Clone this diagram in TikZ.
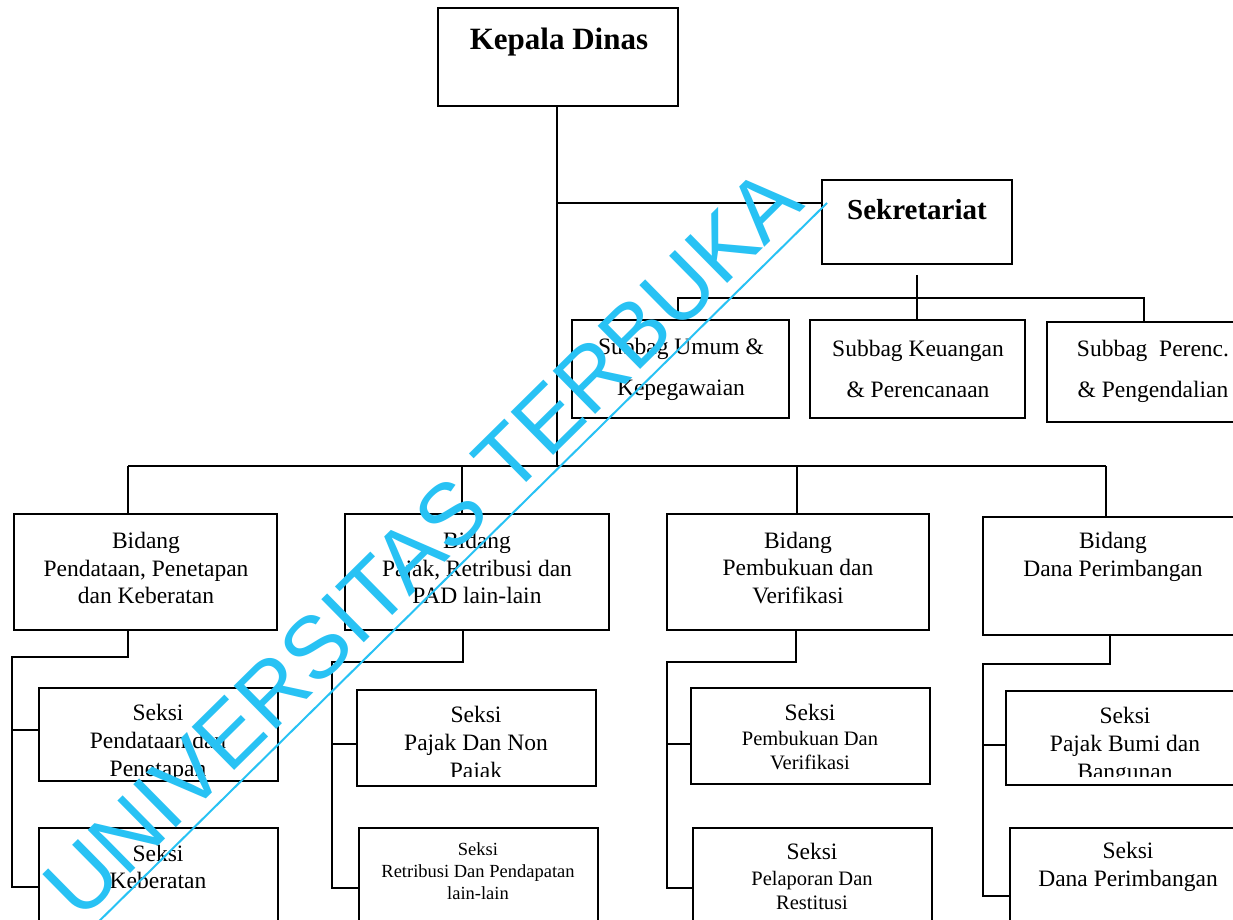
\documentclass[tikz,border=0pt]{standalone}
\usepackage{fontspec}
\setmainfont{Liberation Serif}
\newfontfamily\wmfont{Liberation Sans}
\definecolor{wmc}{RGB}{40,194,244}
\newcommand\bx[5]{\node[box, minimum width={#4-#2}, minimum height={#5-#3}] (#1) at ({(#2+#4)/2},{(#3+#5)/2}) {};}
\begin{document}
\begin{tikzpicture}[x=1pt,y=-1pt,
  box/.style={draw, line width=1.8pt, inner sep=0pt, fill=white},
  conn/.style={line width=1.8pt},
  txt/.style={align=center, inner sep=0pt, font=\fontsize{23.5}{27.5}\selectfont},
  cut/.style={align=center, inner sep=0pt, font=\fontsize{23.5}{28}\selectfont},
  sub/.style={align=center, inner sep=0pt, font=\fontsize{23.5}{41}\selectfont},
  mid/.style={align=center, inner sep=0pt, font=\fontsize{20.5}{24}\selectfont},
  small/.style={align=center, inner sep=0pt, font=\fontsize{18.5}{22}\selectfont},
  head/.style={inner sep=0pt, font=\bfseries\fontsize{31}{36}\selectfont},
  wm/.style={inner sep=0pt, text=wmc, font=\wmfont\fontsize{88}{88}\selectfont},
  wmline/.style={draw=wmc, line width=2pt}]
\useasboundingbox (0,0) rectangle (1233,920);
\clip (0,0) rectangle (1233,920);
\fill[white] (0,0) rectangle (1233,920);

% boxes
\bx{KD}{438}{8}{678}{106}
\bx{Sek}{822}{180}{1012}{264}
\bx{SU}{572}{320}{789}{418}
\bx{SK}{810}{320}{1025}{418}
\bx{SP}{1047}{322}{1241}{422}
\bx{B1}{14}{514}{277}{630}
\bx{B2}{345}{514}{609}{630}
\bx{B3}{667}{514}{929}{630}
\bx{B4}{983}{517}{1243}{635}
\bx{S1a}{39}{688}{278}{781}
\bx{S1b}{39}{828}{278}{960}
\bx{S2a}{357}{690}{596}{786}
\bx{S2b}{359}{828}{598}{960}
\bx{S3a}{691}{688}{930}{784}
\bx{S3b}{693}{828}{932}{960}
\bx{S4a}{1006}{691}{1245}{785}
\bx{S4b}{1010}{828}{1250}{960}

% texts
\node[head] (tKD) at (559,42) {Kepala Dinas};
\node[head, font=\bfseries\fontsize{29}{34}\selectfont] (tSek) at (917,210) {Sekretariat};
\node[sub] (tSU) at (681,369) {Subbag Umum \&\\Kepegawaian};
\node[sub] (tSK) at (918,369) {Subbag Keuangan\\\& Perencanaan};
\node[sub] (tSP) at (1153,371) {Subbag\ \ Perenc.\\\& Pengendalian};
\node[txt] (tB1) at (146,568) {Bidang\\Pendataan, Penetapan\\dan Keberatan};
\node[txt] (tB2) at (477,568) {Bidang\\Pajak, Retribusi dan\\PAD lain-lain};
\node[txt] (tB3) at (798,568) {Bidang\\Pembukuan dan\\Verifikasi};
\node[txt] (tB4) at (1113,557) {Bidang\\Dana Perimbangan};
\begin{scope}
\clip (39,688) rectangle (278,777);
\node[cut] (tS1a) at (158,742.5) {Seksi\\Pendataan dan\\Penetapan};
\end{scope}
\node[txt] (tS1b) at (158,867) {Seksi\\Keberatan};
\begin{scope}
\clip (357,690) rectangle (596,776);
\node[cut] (tS2a) at (476,744.5) {Seksi\\Pajak Dan Non\\Pajak};
\end{scope}
\node[small] (tS2b) at (478,871) {Seksi\\Retribusi Dan Pendapatan\\lain-lain};
\node[txt] (tS3a1) at (810,712) {Seksi};
\node[mid] (tS3a2) at (810,751) {Pembukuan Dan\\Verifikasi};
\node[txt] (tS3b1) at (812,851) {Seksi};
\node[mid] (tS3b2) at (812,890) {Pelaporan Dan\\Restitusi};
\begin{scope}
\clip (1006,691) rectangle (1245,776);
\node[cut] (tS4a) at (1125,745.5) {Seksi\\Pajak Bumi dan\\Bangunan};
\end{scope}
\node[txt] (tS4b) at (1128,867) {Seksi\\Dana Perimbangan};

% connectors
\coordinate (tr) at (557,466);
\coordinate (sk) at (822,203);
\draw[conn] (tr |- KD.south) -- (tr);
\draw[conn] (sk -| tr) -- (sk);
\coordinate (sb) at (917,298);
\coordinate (sbL) at (678,298);
\coordinate (sbR) at (1144,298);
\draw[conn] ([yshift=-10pt]Sek.south) -- (sb);
\draw[conn] (sbL |- SU.north) -- (sbL) -- (sbR) -- (sbR |- SP.north);
\draw[conn] (sb) -- (sb |- SK.north);

\coordinate (d1) at (128,466);
\coordinate (d2) at (462,466);
\coordinate (d3) at (797,466);
\coordinate (d4) at (1106,466);
\draw[conn] (d1) -- (d4);
\foreach \i in {1,2,3,4} {\draw[conn] (d\i) -- (d\i |- B\i.north);}

% column 1
\coordinate (j1) at (128,657); \coordinate (r1) at (12,657);
\coordinate (a1) at (12,730); \coordinate (b1) at (12,887);
\draw[conn] (j1 |- B1.south) -- (j1) -- (r1) -- (b1) -- (b1 -| S1b.west);
\draw[conn] (a1) -- (a1 -| S1a.west);
% column 2
\coordinate (j2) at (463,662); \coordinate (r2) at (332,662);
\coordinate (a2) at (332,744); \coordinate (b2) at (332,888);
\draw[conn] (j2 |- B2.south) -- (j2) -- (r2) -- (b2) -- (b2 -| S2b.west);
\draw[conn] (a2) -- (a2 -| S2a.west);
% column 3
\coordinate (j3) at (796,662); \coordinate (r3) at (667,662);
\coordinate (a3) at (667,744); \coordinate (b3) at (667,888);
\draw[conn] (j3 |- B3.south) -- (j3) -- (r3) -- (b3) -- (b3 -| S3b.west);
\draw[conn] (a3) -- (a3 -| S3a.west);
% column 4
\coordinate (j4) at (1110,664); \coordinate (r4) at (983,664);
\coordinate (a4) at (983,745); \coordinate (b4) at (983,896);
\draw[conn] (j4 |- B4.south) -- (j4) -- (r4) -- (b4) -- (b4 -| S4b.west);
\draw[conn] (a4) -- (a4 -| S4a.west);

% watermark
\node[wm, rotate=44.6, anchor=base west] (wmt) at (80,923) {UNIVERSITAS TERBUKA};
\coordinate (wmA) at (827,203);
\draw[wmline] (wmA) -- ++(-747,737);
\end{tikzpicture}
\end{document}
